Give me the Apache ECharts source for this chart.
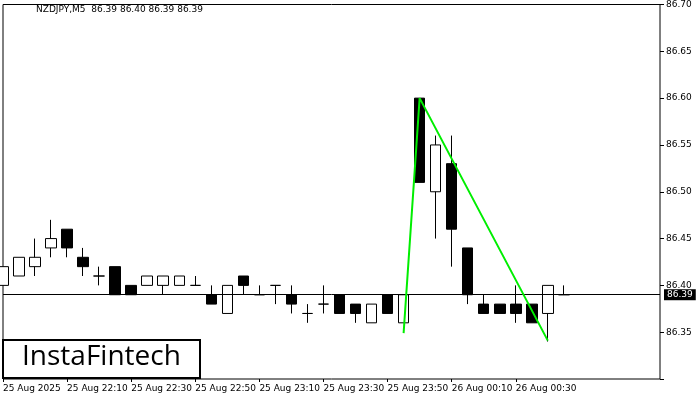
<!DOCTYPE html>
<html><head><meta charset="utf-8">
<script src="https://cdn.jsdelivr.net/npm/echarts@6/dist/echarts.min.js"></script>
<style>html,body{margin:0;padding:0;background:#fff}#c{width:700px;height:400px}</style>
</head><body><div id="c"></div>
<script>
const times = [];
(function(){let m=21*60+50;for(let i=0;i<42;i++){const t=(m+i*5)%1440;times.push(String(Math.floor(t/60)).padStart(2,'0')+':'+String(t%60).padStart(2,'0'));}})();
const tickLabels = {0:'25 Aug 2025',4:'25 Aug 22:10',8:'25 Aug 22:30',12:'25 Aug 22:50',16:'25 Aug 23:10',20:'25 Aug 23:30',24:'25 Aug 23:50',28:'26 Aug 00:10',32:'26 Aug 00:30'};
// [open, close, low, high]
const candles = [
 [86.40,86.42,86.40,86.42],
 [86.41,86.43,86.41,86.43],
 [86.42,86.43,86.41,86.45],
 [86.44,86.45,86.43,86.47],
 [86.46,86.44,86.43,86.46],
 [86.43,86.42,86.41,86.44],
 [86.41,86.41,86.40,86.42],
 [86.42,86.39,86.39,86.42],
 [86.40,86.39,86.39,86.40],
 [86.40,86.41,86.40,86.41],
 [86.40,86.41,86.39,86.41],
 [86.40,86.41,86.40,86.41],
 [86.40,86.40,86.40,86.41],
 [86.39,86.38,86.38,86.40],
 [86.37,86.40,86.37,86.40],
 [86.41,86.40,86.39,86.41],
 [86.39,86.39,86.39,86.40],
 [86.40,86.40,86.38,86.40],
 [86.39,86.38,86.37,86.40],
 [86.37,86.37,86.36,86.38],
 [86.38,86.38,86.37,86.40],
 [86.39,86.37,86.37,86.39],
 [86.38,86.37,86.36,86.38],
 [86.36,86.38,86.36,86.38],
 [86.39,86.37,86.37,86.39],
 [86.36,86.39,86.36,86.39],
 [86.60,86.51,86.51,86.60],
 [86.50,86.55,86.45,86.56],
 [86.53,86.46,86.42,86.56],
 [86.44,86.39,86.38,86.44],
 [86.38,86.37,86.37,86.39],
 [86.38,86.37,86.37,86.38],
 [86.38,86.37,86.36,86.40],
 [86.38,86.36,86.36,86.38],
 [86.37,86.40,86.34,86.40],
 [86.39,86.39,86.39,86.40]
];
const patternIdx = [25,26,34];
const patternVal = [86.349,86.60,86.341];
const lastPrice = 86.39;
const yTicks = [86.35,86.40,86.45,86.50,86.55,86.60,86.65,86.70];

const lineData = times.map(()=>null);
patternIdx.forEach((k,j)=>lineData[k]=patternVal[j]);

const chart = echarts.init(document.getElementById('c'));
chart.setOption({
 animation:false,
 grid:{left:2,right:40,top:3,bottom:21,show:true,borderColor:'#000',borderWidth:1},
 xAxis:{type:'category',data:times,boundaryGap:false,
  axisLine:{show:false},
  axisTick:{show:true,alignWithLabel:true,interval:(i)=>tickLabels[i]!==undefined,lineStyle:{color:'#000'},length:3},
  axisLabel:{interval:0,formatter:(v,i)=>tickLabels[i]||'',align:'left',margin:5,fontFamily:'DejaVu Sans',fontSize:9,color:'#000'},
  splitLine:{show:false}},
 yAxis:{type:'value',position:'right',min:86.30,max:86.70,interval:0.05,
  axisLine:{show:false},axisTick:{show:true,length:4,lineStyle:{color:'#000'}},
  axisLabel:{formatter:(v)=>v<86.33?'':v.toFixed(2),fontFamily:'DejaVu Sans',fontSize:9,color:'#000',margin:6},
  splitLine:{show:false}},
 series:[
  {type:'candlestick',data:candles,barWidth:11,
   itemStyle:{color:'#fff',color0:'#000',borderColor:'#000',borderColor0:'#000',borderWidth:1},
   markLine:{symbol:'none',silent:true,data:[{yAxis:lastPrice}],lineStyle:{color:'#000',width:1,type:'solid'},
    label:{position:'end',formatter:'86.39',backgroundColor:'#000',color:'#fff',fontFamily:'DejaVu Sans',fontSize:9,padding:[1,3],distance:4}}},
  {type:'line',data:lineData,connectNulls:true,symbol:'none',lineStyle:{color:'#00ee00',width:2},z:5}
 ],
 graphic:[
  {type:'text',left:36,top:5,style:{text:'NZDJPY,M5  86.39 86.40 86.39 86.39',font:'9px DejaVu Sans',fill:'#000'}},
  {type:'rect',shape:{x:3,y:340,width:197,height:38},style:{fill:'#fff',stroke:'#000',lineWidth:2},z:10},
  {type:'text',left:22,top:343,style:{text:'InstaFintech',font:'28px "Open Sans"',fill:'#000'},z:11}
 ]
});
</script></body></html>
